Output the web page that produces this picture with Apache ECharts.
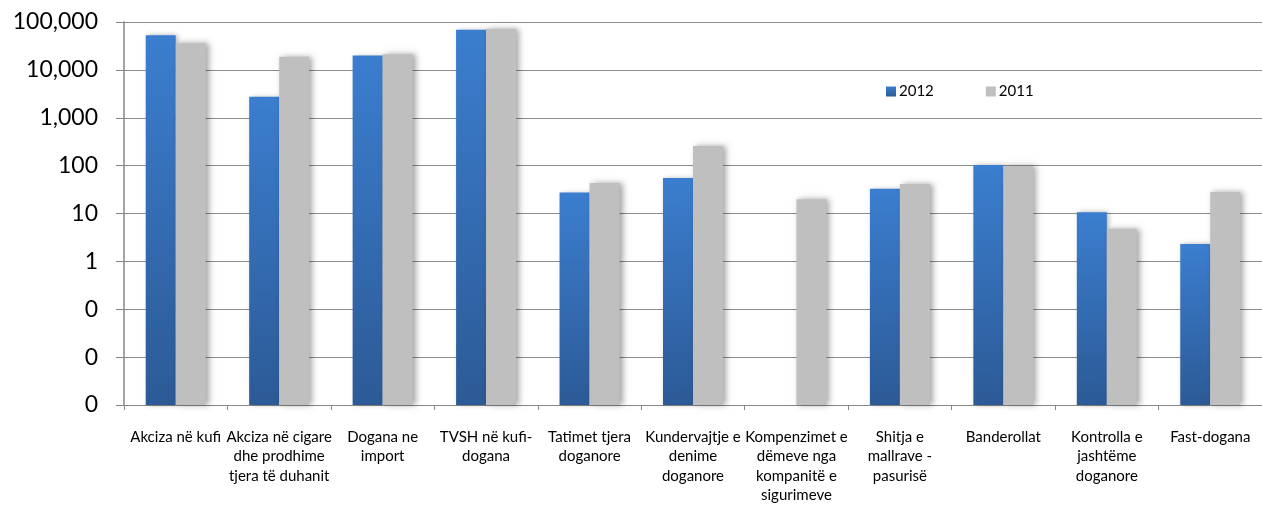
<!DOCTYPE html>
<html><head><meta charset="utf-8">
<script src="https://cdn.jsdelivr.net/npm/echarts@6/dist/echarts.min.js"></script>
<style>html,body{margin:0;padding:0;background:#fff}#c{width:1262px;height:505px}</style>
</head><body><div id="c"></div>
<script>
const categories = [
  'Akciza në kufi',
  'Akciza në cigare\ndhe prodhime\ntjera të duhanit',
  'Dogana ne\nimport',
  'TVSH në kufi-\ndogana',
  'Tatimet tjera\ndoganore',
  'Kundervajtje e\ndenime\ndoganore',
  'Kompenzimet e\ndëmeve nga\nkompanitë e\nsigurimeve',
  'Shitja e\nmallrave -\npasurisë',
  'Banderollat',
  'Kontrolla e\njashtëme\ndoganore',
  'Fast-dogana'
];
const values2012 = [52800, 2740, 19900, 69200, 27.4, 55.4, null, 32.7, 103, 10.6, 2.3];
const values2011 = [36000, 18700, 21200, 72500, 43.6, 257, 19.9, 41.5, 98, 4.8, 28];
const seriesNames = ['2012', '2011'];
const axisMin = 0.001;
const axisMax = 100000;

const FONT = 'Lato';
const chart = echarts.init(document.getElementById('c'));
const blueGrad = new echarts.graphic.LinearGradient(0, 0, 0, 1, [
  {offset: 0, color: '#3b7ecf'}, {offset: 1, color: '#2c5a96'}
]);
// invisible base bars so the visible bars start at the bottom of the log axis
const baseData = categories.map(() => axisMin);
const baseSeries = (stack) => ({
  name: 'base' + stack, type: 'bar', stack: stack, data: baseData, barWidth: 30, barGap: '0%',
  silent: true, itemStyle: {color: 'rgba(0,0,0,0)'}, tooltip: {show: false}
});
chart.setOption({
  animation: false,
  grid: {left: 124, right: 0, top: 22, bottom: 98},
  legend: {
    left: 881, top: 79, itemWidth: 10, itemHeight: 10, itemGap: 52,
    icon: 'rect',
    textStyle: {fontFamily: FONT, fontSize: 15, color: '#000', padding: [0, 0, 0, -2]},
    data: seriesNames
  },
  xAxis: {
    type: 'category', data: categories,
    axisLine: {lineStyle: {color: '#868686', width: 1}},
    axisTick: {show: true, length: 5, lineStyle: {color: '#868686'}},
    axisLabel: {fontFamily: FONT, fontSize: 15, color: '#000', lineHeight: 19.5, margin: 22, interval: 0, align: 'center'}
  },
  yAxis: {
    type: 'log', logBase: 10, min: axisMin, max: axisMax,
    axisLine: {show: true, lineStyle: {color: '#868686', width: 1.5}},
    axisTick: {show: true, length: 8, lineStyle: {color: '#868686'}},
    splitLine: {lineStyle: {color: '#8c8c8c', width: 1.2}},
    axisLabel: {
      fontFamily: FONT, fontSize: 23, color: '#000', margin: 26,
      formatter: v => v < 1 ? '0' : Math.round(v).toLocaleString('en-US')
    }
  },
  series: [
    baseSeries('a'),
    {name: seriesNames[0], type: 'bar', stack: 'a', data: values2012, barWidth: 30, barGap: '0%',
     itemStyle: {color: blueGrad, shadowColor: 'rgba(0,0,0,0.3)', shadowBlur: 5, shadowOffsetX: 2}},
    baseSeries('b'),
    {name: seriesNames[1], type: 'bar', stack: 'b', data: values2011, barWidth: 30, barGap: '0%',
     itemStyle: {color: '#bfbfbf', shadowColor: 'rgba(0,0,0,0.35)', shadowBlur: 6, shadowOffsetX: 3}}
  ]
});
</script></body></html>
